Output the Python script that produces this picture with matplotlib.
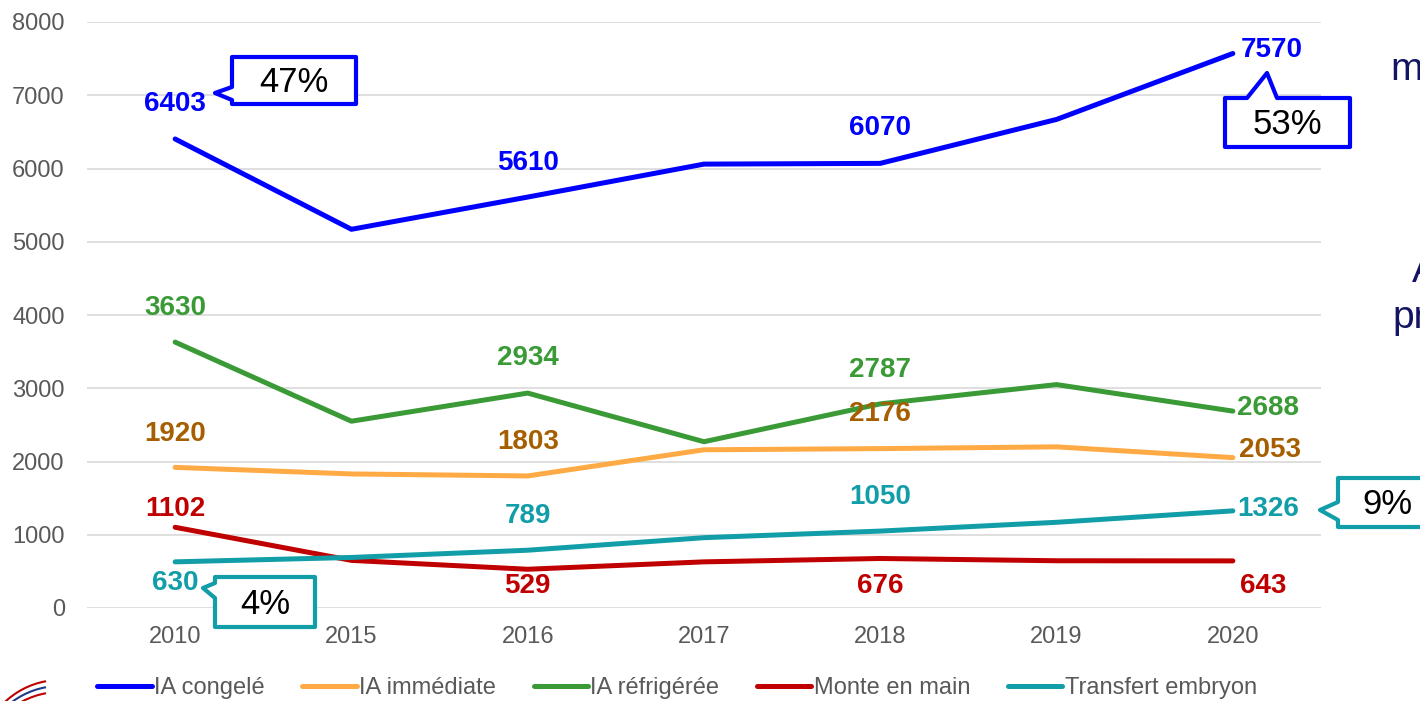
import matplotlib.pyplot as plt
from matplotlib.patches import Polygon, Arc

plt.rcParams['font.family'] = ['Liberation Sans', 'DejaVu Sans']

# donnees
annees = ["2010", "2015", "2016", "2017", "2018", "2019", "2020"]
ia_congele = [6403, 5170, 5610, 6060, 6070, 6670, 7570]
ia_immediate = [1920, 1830, 1803, 2160, 2176, 2200, 2053]
ia_refrigeree = [3630, 2550, 2934, 2270, 2787, 3050, 2688]
monte_main = [1102, 650, 529, 630, 676, 645, 643]
transfert = [630, 690, 789, 960, 1050, 1170, 1326]
series_noms = ["IA congelé", "IA immédiate", "IA réfrigérée", "Monte en main", "Transfert embryon"]
labels_idx = [0, 2, 4, 6]
callout_txt = ["47%", "53%", "9%", "4%"]
slide_txt = ["m", "A", "pr"]

W, H = 1420, 701
fig = plt.figure(figsize=(W / 100, H / 100), dpi=100)
ax = fig.add_axes([87 / W, 1 - 608 / H, (1321 - 87) / W, (608 - 22) / H])

series = [ia_congele, ia_immediate, ia_refrigeree, monte_main, transfert]
couleurs = ["#0000FF", "#FFAA44", "#3A9A36", "#C00000", "#129EA8"]
couleurs_lab = ["#0000FF", "#A65F00", "#3A9A36", "#C00000", "#129EA8"]

x = list(range(len(annees)))
lines = []
for s, c, n in zip(series, couleurs, series_noms):
    l, = ax.plot(x, s, color=c, lw=3.6, solid_capstyle='round', label=n, zorder=3)
    lines.append(l)

ax.set_xlim(-0.5, 6.5)
ax.set_ylim(0, 8000)
ax.set_yticks(range(0, 8001, 1000))
ax.set_xticks(x)
ax.set_xticklabels(annees)
ax.grid(axis='y', color='#D9D9D9', lw=1.2)
ax.set_axisbelow(True)
for sp in ax.spines.values():
    sp.set_visible(False)
ax.tick_params(length=0, labelsize=17, labelcolor='#595959')
ax.tick_params(axis='y', pad=16)
ax.tick_params(axis='x', pad=13)

# offsets des etiquettes en pixels (dx, dy, ha) pour les points 2010/2016/2018/2020
k = 0.72
offs = [
    [(0, 35, 'center'), (0, 34, 'center'), (0, 35, 'center'), (8, 3, 'left')],
    [(0, 33, 'center'), (0, 34, 'center'), (0, 35, 'center'), (6, 8, 'left')],
    [(0, 34, 'center'), (0, 35, 'center'), (0, 34, 'center'), (4, 3, 'left')],
    [(0, 18, 'center'), (0, -17, 'center'), (0, -28, 'center'), (30, -25, 'center')],
    [(0, -21, 'center'), (0, 34, 'center'), (0, 34, 'center'), (4, 2, 'left')],
]
for s, c, of in zip(series, couleurs_lab, offs):
    for i, (dx, dy, ha) in zip(labels_idx, of):
        ax.annotate(str(s[i]), (i, s[i]), xytext=(dx * k, dy * k), textcoords='offset points',
                    ha=ha, va='center', fontsize=20, fontweight='bold', color=c, zorder=5)


def P(px, py):
    return (px / W, 1 - py / H)


def bulle(box, tip, notch, side, col, txt, txy):
    x0, y0, x1, y1 = box
    a, b = notch
    if side == 'left':
        pts = [(x0, y0), (x1, y0), (x1, y1), (x0, y1), (x0, b), tip, (x0, a)]
    else:
        pts = [(x0, y0), (a, y0), tip, (b, y0), (x1, y0), (x1, y1), (x0, y1)]
    poly = Polygon([P(*p) for p in pts], closed=True, transform=fig.transFigure,
                   facecolor='white', edgecolor=col, lw=3, joinstyle='round', zorder=10)
    fig.patches.append(poly)
    fig.text(*P(*txy), txt, ha='center', va='center', fontsize=25, color='black', zorder=11)


bulle((232, 57, 356, 104), (215, 93), (87, 100), 'left', '#0000FF', callout_txt[0], (294, 82))
bulle((1225, 98, 1350, 147), (1267, 73), (1247, 1277), 'top', '#0000FF', callout_txt[1], (1287, 124))
bulle((1338, 478, 1440, 527), (1320, 510), (502, 520), 'left', '#129EA8', callout_txt[2], (1387, 504))
bulle((215, 577, 315, 627), (203, 588), (583, 598), 'left', '#129EA8', callout_txt[3], (265, 604))

# texte de la diapositive coupe a droite
fig.text(*P(1390, 80), slide_txt[0], fontsize=28, color='#141464', va='baseline')
fig.text(*P(1412, 282), slide_txt[1], fontsize=28, color='#141464', va='baseline')
fig.text(*P(1392, 328), slide_txt[2], fontsize=28, color='#141464', va='baseline')

# coin du logo
for r, c in [(0, '#C00000'), (6, '#1F3A8A'), (12, '#C00000')]:
    arc = Arc(P(60, 760 + r), 160 / W, 160 / H, theta1=95, theta2=160,
              transform=fig.transFigure, color=c, lw=1.5)
    fig.patches.append(arc)

fig.legend(handles=lines, loc='center', bbox_to_anchor=(677 / W, 1 - 688 / H), ncol=5,
           frameon=False, fontsize=17, labelcolor='#595959', handlelength=2.3,
           handletextpad=0.1, columnspacing=1.6, borderaxespad=0)

fig.savefig('out.png', dpi=100)
